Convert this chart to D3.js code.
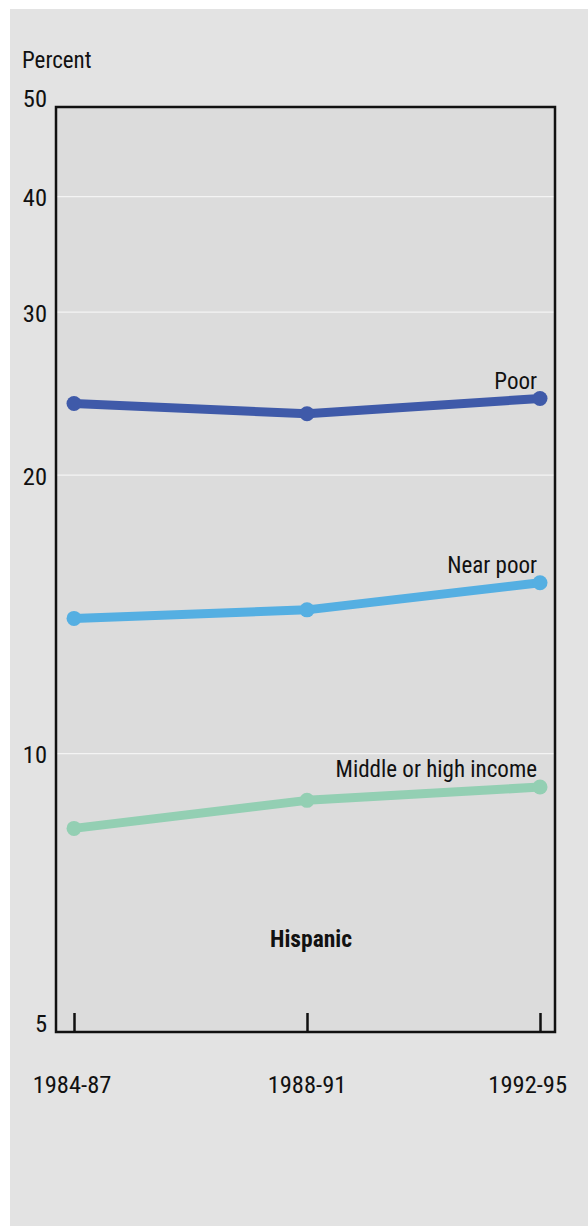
<!DOCTYPE html>
<html><head><meta charset="utf-8">
<script src="https://cdn.jsdelivr.net/npm/d3@7"></script>
<style>
html,body{margin:0;padding:0;background:#fff;}
svg{display:block;}
text{font-family:"Liberation Sans Narrow","Roboto Condensed","Arial Narrow",sans-serif;fill:#111;}
</style></head>
<body>
<svg id="c" width="588" height="1226"></svg>
<script>
const periods = ["1984-87", "1988-91", "1992-95"];
const poor = [23.9, 23.3, 24.2];
const nearPoor = [14.0, 14.3, 15.3];
const middleHigh = [8.3, 8.9, 9.2];
const seriesNames = ["Poor", "Near poor", "Middle or high income"];
const yTicks = [5, 10, 20, 30, 40, 50];
const gridValues = [10, 20, 30, 40];
const panelTitle = "Hispanic";
const yTitle = "Percent";

const series = [
  {name: seriesNames[0], values: poor, color: "#3f5aa9"},
  {name: seriesNames[1], values: nearPoor, color: "#55afe2"},
  {name: seriesNames[2], values: middleHigh, color: "#93cfb3"}
];

const svg = d3.select("#c");
svg.append("rect").attr("x",10).attr("y",9).attr("width",578).attr("height",1217).attr("fill","#e3e3e3");

const plot = {l:56, r:555, t:107, b:1032};
const x = d3.scalePoint().domain(periods).range([74, 540]);
const y = d3.scaleLog().domain([5, 50]).range([plot.b, plot.t]);

svg.append("rect").attr("x",plot.l).attr("y",plot.t).attr("width",plot.r-plot.l).attr("height",plot.b-plot.t)
  .attr("fill","#dcdcdc");

svg.append("g").selectAll("line").data(gridValues).join("line")
  .attr("x1",plot.l).attr("x2",plot.r).attr("y1",d=>y(d)).attr("y2",d=>y(d))
  .attr("stroke","#f4f4f4").attr("stroke-width",1.2);

// y axis labels
const yAxis = d3.axisLeft(y).tickValues(yTicks).tickFormat(d3.format("d")).tickSize(0).tickPadding(9);
const gy = svg.append("g").attr("transform",`translate(${plot.l},0)`).call(yAxis);
gy.select(".domain").remove();
gy.selectAll("text").attr("font-size",24.5).attr("fill","#111")
  .attr("font-family",'"Liberation Sans Narrow","Roboto Condensed",sans-serif')
  .attr("dy",d=> (d===5 || d===50) ? "-0.02em" : "0.38em");

// x axis: inward ticks
const xAxis = d3.axisTop(x).tickSize(19).tickFormat("");
const gx = svg.append("g").attr("transform",`translate(0,${plot.b})`).call(xAxis);
gx.select(".domain").remove();
gx.selectAll("line").attr("stroke","#111").attr("stroke-width",2.5);

// x labels
svg.append("g").selectAll("text").data(periods).join("text")
  .attr("x",(d,i)=> i===2 ? 567 : x(d) - (i===0 ? 2 : 0))
  .attr("y",1093)
  .attr("text-anchor",(d,i)=> i===2 ? "end" : "middle")
  .attr("font-size",24.5).text(d=>d);

// border
svg.append("rect").attr("x",plot.l).attr("y",plot.t).attr("width",plot.r-plot.l).attr("height",plot.b-plot.t)
  .attr("fill","none").attr("stroke","#111").attr("stroke-width",2.5);

svg.append("text").attr("x",22).attr("y",68).attr("font-size",23).text(yTitle);

const line = d3.line().x((d,i)=>x(periods[i])).y(d=>y(d));
const gs = svg.append("g").selectAll("g").data(series).join("g");
gs.append("path").attr("d",d=>line(d.values)).attr("fill","none")
  .attr("stroke",d=>d.color).attr("stroke-width",9).attr("stroke-linejoin","round");
gs.selectAll("circle").data(d=>d.values.map(v=>({v,c:d.color}))).join("circle")
  .attr("cx",(d,i)=>x(periods[i])).attr("cy",d=>y(d.v)).attr("r",7.5).attr("fill",d=>d.c);

gs.append("text").attr("x",537).attr("y",d=>y(d.values[2]) - 10)
  .attr("text-anchor","end").attr("font-size",23).text(d=>d.name);

svg.append("text").attr("x",311).attr("y",947).attr("text-anchor","middle")
  .attr("font-size",23.5).attr("font-weight","bold").text(panelTitle);
</script>
</body></html>
